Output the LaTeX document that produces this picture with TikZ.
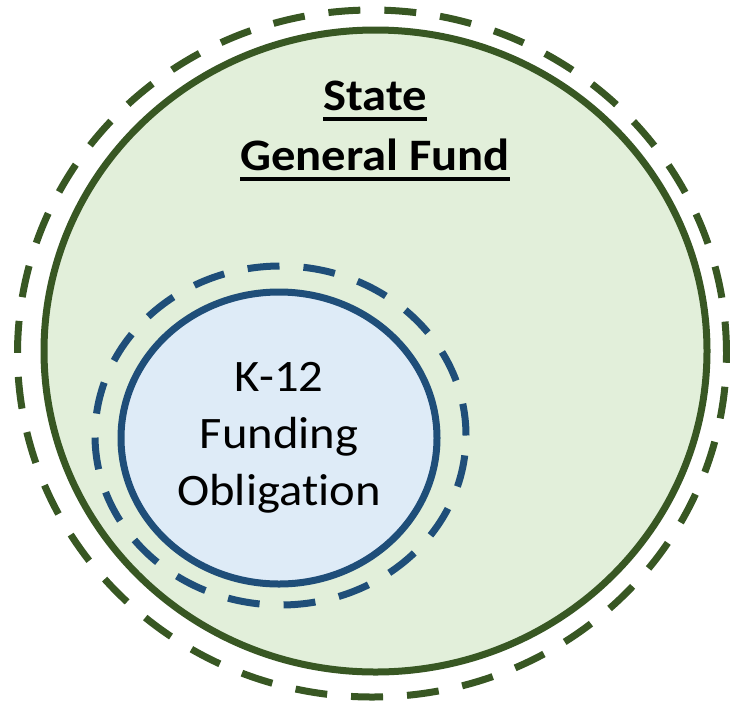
\documentclass[tikz,border=0pt]{standalone}
\usepackage{fontspec}
\setmainfont{Carlito}[FakeStretch=1.08, Ligatures=NoCommon]
\usetikzlibrary{shapes.geometric}

\definecolor{fundline}{HTML}{385723}
\definecolor{fundfill}{HTML}{E2EFDA}
\definecolor{kline}{HTML}{1F4E79}
\definecolor{kfill}{HTML}{DEEBF7}

% thick underline for the title lines
\newcommand\fundul[1]{\setbox0\hbox{#1}\rlap{\rule[-10.5pt]{\wd0}{4pt}}\box0}

\tikzset{
  ring/.style={ellipse, inner sep=0pt, line width=7pt},
  dashring/.style={ring, dash pattern=on 32pt off 24pt},
}

\begin{document}
\begin{tikzpicture}[x=1pt, y=-1pt]
\useasboundingbox (0,0) rectangle (730,705);

% general fund
\node (funddash) [dashring, draw=fundline, minimum width=709pt, minimum height=687pt] at (372,353.5) {};
\node (fund) [ring, draw=fundline, fill=fundfill, minimum width=663pt, minimum height=642pt] at (375.5,351) {};
\node (title) [align=center, font=\fontsize{45}{60}\selectfont\bfseries] at (375,131)
  {\fundul{State}\\\fundul{General Fund}};

% k-12 share
\node (kdash) [dashring, draw=kline, minimum width=371pt, minimum height=339pt] at (280.5,435.5) {};
\node (k12) [ring, draw=kline, fill=kfill, minimum width=316pt, minimum height=292pt,
  align=center, font=\fontsize{45}{57}\selectfont] at (279,438) {K-12\\Funding\\Obligation};

\end{tikzpicture}
\end{document}
